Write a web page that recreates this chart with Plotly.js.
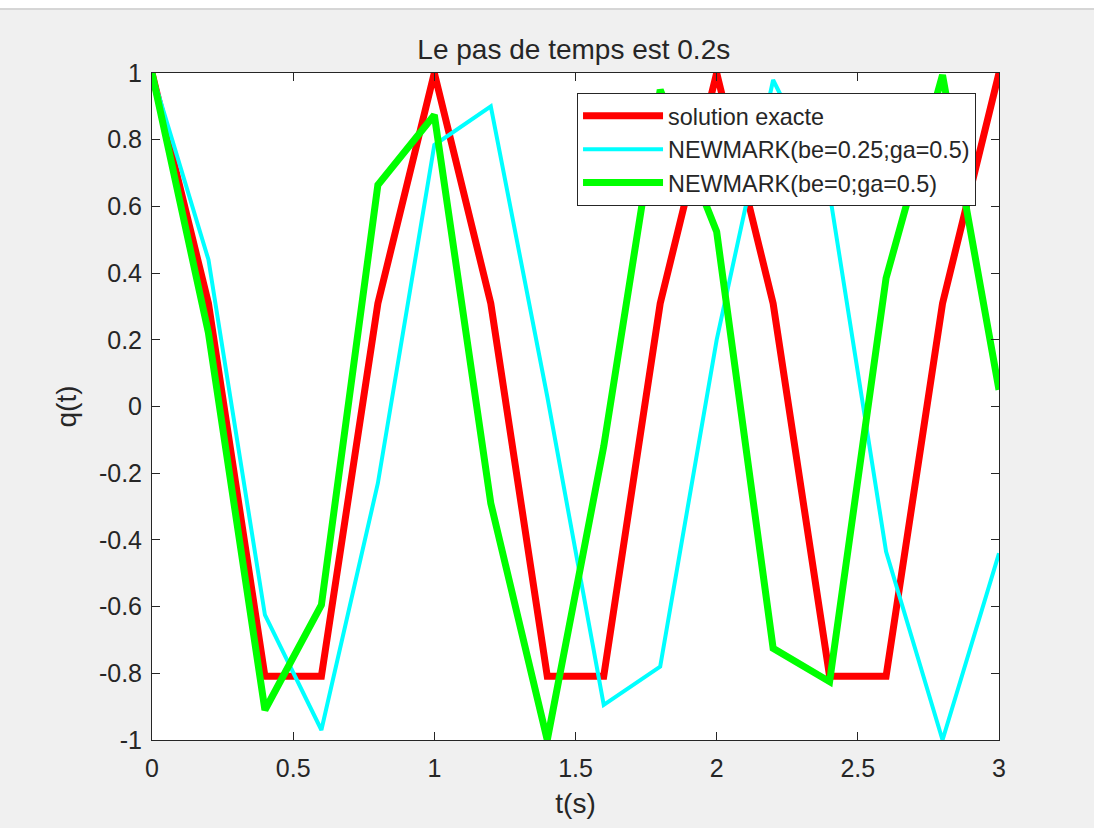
<!DOCTYPE html>
<html>
<head>
<meta charset="utf-8">
<script src="https://cdn.plot.ly/plotly-3.0.1.min.js"></script>
<style>
  html, body { margin: 0; padding: 0; background: #F0F0F0; }
  #chart { width: 1094px; height: 828px; }
</style>
</head>
<body>
<div id="chart"></div>
<script>
// time samples (s)
const t = [0, 0.2, 0.4, 0.6, 0.8, 1.0, 1.2, 1.4, 1.6, 1.8, 2.0, 2.2, 2.4, 2.6, 2.8, 3.0];
// solution exacte
const exacte = [1, 0.309, -0.809, -0.809, 0.309, 1, 0.309, -0.809, -0.809, 0.309, 1, 0.309, -0.809, -0.809, 0.309, 1];
// NEWMARK(be=0.25;ga=0.5)
const newmark025 = [1, 0.44, -0.625, -0.97, -0.23, 0.784, 0.90, 0.03, -0.895, -0.78, 0.2, 0.979, 0.64, -0.435, -1.0, -0.44];
// NEWMARK(be=0;ga=0.5)
const newmark0 = [1, 0.22, -0.91, -0.595, 0.664, 0.874, -0.29, -1.0, -0.12, 0.95, 0.524, -0.725, -0.825, 0.385, 0.994, 0.05];

const seriesNames = ['solution exacte', 'NEWMARK(be=0.25;ga=0.5)', 'NEWMARK(be=0;ga=0.5)'];

const xTickVals = [0, 0.5, 1, 1.5, 2, 2.5, 3];
const xTickText = ['0', '0.5', '1', '1.5', '2', '2.5', '3'];
const yTickVals = [-1, -0.8, -0.6, -0.4, -0.2, 0, 0.2, 0.4, 0.6, 0.8, 1];
const yTickText = ['-1', '-0.8', '-0.6', '-0.4', '-0.2', '0', '0.2', '0.4', '0.6', '0.8', '1'];

const FONT = '"Liberation Sans", Arial, Helvetica, sans-serif';
const AX = '#262626';

const traces = [
  { x: t, y: exacte, name: seriesNames[0], mode: 'lines',
    line: { color: '#FF0000', width: 7 } },
  { x: t, y: newmark025, name: seriesNames[1], mode: 'lines',
    line: { color: '#00FFFF', width: 4 } },
  { x: t, y: newmark0, name: seriesNames[2], mode: 'lines',
    line: { color: '#00FF00', width: 7 } }
];

const axisCommon = {
  showline: true, linecolor: AX, linewidth: 1, mirror: 'ticks',
  ticks: 'inside', ticklen: 8, tickcolor: AX, tickwidth: 1,
  showgrid: false, zeroline: false, fixedrange: true,
  tickfont: { family: FONT, size: 25, color: AX }
};

const layout = {
  width: 1094, height: 828,
  paper_bgcolor: '#F0F0F0', plot_bgcolor: '#FFFFFF',
  margin: { l: 152, r: 95, t: 73, b: 88 },
  font: { family: FONT, color: AX },
  title: { text: 'Le pas de temps est 0.2s', font: { family: FONT, size: 28, color: AX },
           x: 0.5245, xanchor: 'center', y: 0.94, yanchor: 'middle' },
  xaxis: Object.assign({}, axisCommon, {
    range: [0, 3], tickmode: 'array', tickvals: xTickVals, ticktext: xTickText,
    ticklabelstandoff: 6,
    title: { text: 't(s)', font: { family: FONT, size: 28, color: AX }, standoff: 12 }
  }),
  yaxis: Object.assign({}, axisCommon, {
    range: [-1, 1], tickmode: 'array', tickvals: yTickVals, ticktext: yTickText,
    ticklabelstandoff: 4,
    title: { text: 'q(t)', font: { family: FONT, size: 28, color: AX }, standoff: 14 }
  }),
  showlegend: true,
  legend: {
    x: 0.5018, y: 0.970, xanchor: 'left', yanchor: 'top',
    bgcolor: '#FFFFFF', bordercolor: AX, borderwidth: 1,
    font: { family: FONT, size: 23.4, color: AX },
    itemwidth: 80, tracegroupgap: 0
  },
  shapes: [
    { type: 'rect', xref: 'paper', yref: 'paper', x0: -0.1795, x1: 1.1122, y0: 1.0960, y1: 1.1094,
      fillcolor: '#FFFFFF', line: { width: 0 }, layer: 'below' },
    { type: 'line', xref: 'paper', yref: 'paper', x0: -0.1795, x1: 1.1122, y0: 1.0960, y1: 1.0960,
      line: { color: '#B4B4B4', width: 1 } }
  ]
};

Plotly.newPlot('chart', traces, layout, { displayModeBar: false, staticPlot: true });
</script>
</body>
</html>
